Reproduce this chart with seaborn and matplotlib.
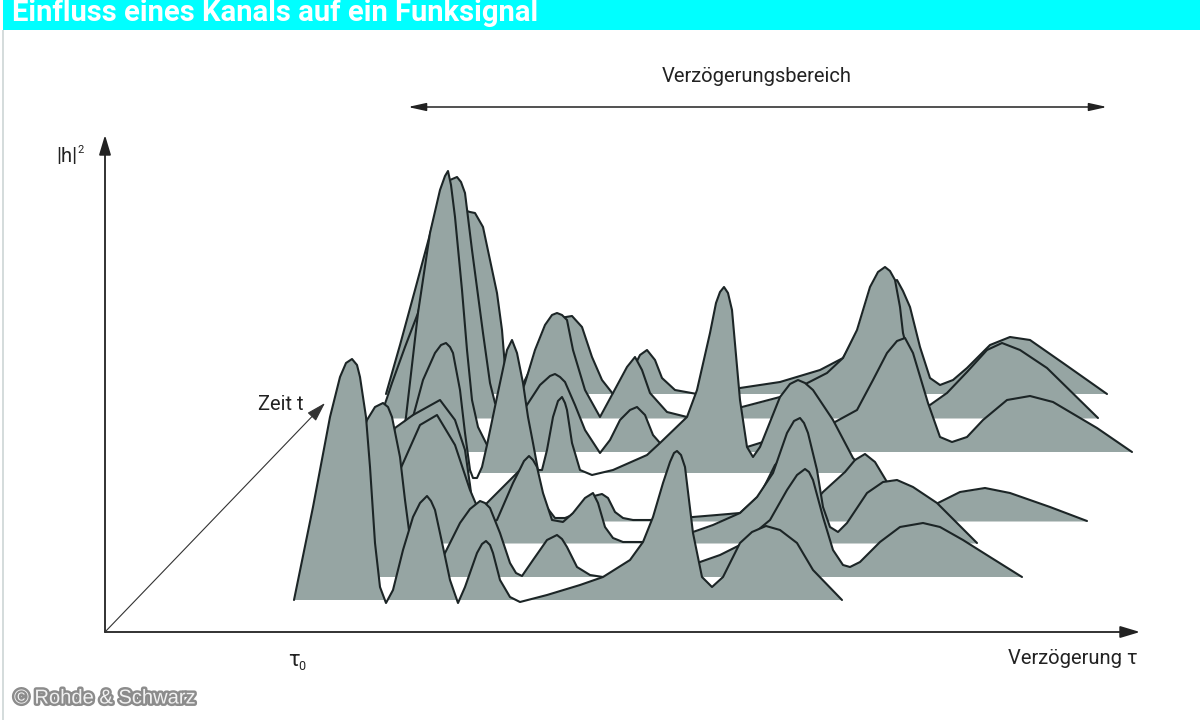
import numpy as np
import seaborn as sns
import matplotlib.pyplot as plt
import matplotlib.patheffects as pe
from matplotlib.patches import Rectangle

# (delay, height above the ridge's own baseline)
ridge_a = [(294,0),(313,93),(330,183),(340,223),(346,237),(352,241),(357,235),(360,223),(366,183),(370,133),(375,57),(380,13),(386,-3),(393,10),(403,50),(413,83),(420,97),(427,104),(431,99),(435,90),(443,53),(450,20),(458,-3),(465,13),(477,47),(482,56),(486,59),(490,55),(493,47),(500,20),(510,3),(520,-2),(547,5),(580,15),(603,23),(630,40),(643,58),(653,83),(663,117),(670,138),(674,147),(677,149),(681,145),(685,133),(693,67),(702,23),(712,13),(723,23),(740,57),(752,68),(766,74),(780,70),(797,57),(813,30),(842,0)]
ridge_b = [(340,0),(350,77),(360,137),(367,157),(375,170),(383,174),(388,170),(392,160),(400,120),(405,77),(410,39),(415,10),(422,-3),(430,-3),(437,8),(445,24),(460,54),(470,68),(480,76),(485,74),(490,69),(500,44),(510,14),(516,4),(522,1),(533,17),(547,37),(557,42),(562,38),(567,30),(577,10),(590,2),(603,0),(640,2),(670,7),(700,15),(720,22),(740,32),(770,57),(787,87),(797,102),(805,108),(809,105),(813,97),(823,60),(833,27),(843,12),(850,10),(860,15),(880,35),(900,50),(923,54),(940,50),(963,37),(990,20),(1022,0)]
ridge_c = [(380,0),(400,73),(420,118),(437,128),(455,98),(470,53),(485,18),(497,23),(513,60),(524,82),(529,87),(533,83),(537,76),(543,50),(552,23),(563,21),(573,30),(585,45),(593,50),(598,40),(605,16),(613,5),(623,1),(643,1),(670,5),(693,11),(713,18),(740,30),(757,46),(773,70),(787,110),(794,122),(800,125),(804,120),(808,110),(817,73),(823,36),(830,16),(838,11),(847,20),(867,50),(883,61),(897,63),(913,56),(937,40),(977,0)]
ridge_d = [(370,0),(380,51),(395,93),(413,106),(440,121),(455,101),(465,71),(470,36),(473,13),(480,9),(487,18),(500,31),(513,44),(525,56),(535,41),(545,16),(555,3),(565,3),(575,7),(590,24),(602,27),(608,23),(615,9),(623,3),(633,1),(650,1),(693,4),(717,6),(740,8),(760,26),(775,56),(790,71),(800,76),(810,46),(818,23),(823,29),(845,49),(855,61),(865,67),(875,59),(887,39),(895,26),(905,11),(915,3),(925,6),(938,18),(960,29),(985,33),(1010,28),(1050,14),(1087,0)]
ridge_e = [(395,0),(400,16),(413,56),(423,93),(435,120),(441,128),(446,130),(450,126),(453,120),(460,83),(465,40),(470,3),(473,-5),(477,-5),(482,6),(487,28),(497,76),(507,123),(512,133),(517,120),(523,90),(528,56),(533,30),(538,3),(542,3),(547,23),(553,56),(558,72),(562,76),(565,70),(567,63),(572,30),(580,3),(592,-2),(613,3),(647,18),(660,30),(687,56),(697,83),(710,140),(716,170),(720,181),(724,186),(728,180),(732,163),(740,73),(747,26),(753,16),(760,26),(780,76),(790,89),(798,93),(805,90),(813,83),(833,53),(853,15),(868,0)]
ridge_f = [(400,0),(406,35),(418,139),(430,219),(440,262),(445,276),(448,281),(451,267),(455,235),(462,162),(467,102),(472,52),(478,25),(487,7),(495,2),(505,7),(515,22),(525,44),(540,67),(550,76),(555,78),(560,75),(565,70),(575,47),(585,22),(600,-1),(610,12),(620,32),(630,42),(637,45),(645,37),(653,17),(660,9),(675,2),(700,5),(725,8),(747,5),(763,10),(790,15),(815,22),(835,30),(857,42),(873,72),(887,99),(897,111),(905,114),(913,99),(928,49),(940,15),(952,10),(967,15),(983,32),(1007,52),(1030,56),(1053,50),(1097,24),(1132,0)]
ridge_g = [(380,0),(387,20),(392,35),(405,71),(418,105),(430,158),(440,213),(450,238),(457,241),(461,236),(465,225),(472,168),(483,85),(490,35),(495,15),(505,3),(515,8),(525,35),(535,68),(545,93),(552,103),(557,105),(562,103),(567,98),(573,68),(585,28),(600,1),(613,25),(627,51),(635,61),(642,48),(650,25),(667,6),(687,1),(700,3),(742,11),(780,21),(827,45),(843,60),(857,88),(870,131),(878,146),(885,151),(890,147),(895,138),(900,111),(903,85),(915,38),(925,13),(930,13),(947,25),(967,46),(987,68),(1002,75),(1020,68),(1047,50),(1098,0)]
ridge_h = [(386,0),(400,49),(415,104),(433,171),(445,194),(460,185),(470,182),(475,181),(483,167),(490,134),(497,101),(502,64),(505,27),(510,9),(520,4),(530,24),(545,59),(560,76),(572,78),(582,67),(592,37),(602,14),(613,0),(620,2),(630,19),(640,39),(647,44),(655,34),(662,16),(675,4),(697,0),(717,2),(740,6),(780,12),(820,24),(843,36),(860,64),(875,94),(888,109),(897,114),(903,103),(910,87),(920,47),(930,16),(940,9),(953,14),(967,26),(990,49),(1010,57),(1030,54),(1063,31),(1107,0)]

# back to front
ridges = [ridge_h, ridge_g, ridge_f, ridge_e, ridge_d, ridge_c, ridge_b, ridge_a]
time_offsets = [238, 214, 180, 159, 111, 89, 55, 32]

title = 'Einfluss eines Kanals auf ein Funksignal'
x_label = 'Verzögerung τ'
y_label = '|h|'
time_label = 'Zeit t'
range_label = 'Verzögerungsbereich'
credit = '© Rohde & Schwarz'

sns.set_theme(style='white')
narrow = ['Liberation Sans Narrow', 'Roboto', 'DejaVu Sans']
ink = '#1c2526'
grey = '#96a5a3'

fig = plt.figure(figsize=(12, 7.2), dpi=100)
ax = fig.add_axes([105/1200, 88/720, 1035/1200, 497/720])
ax.set_xlim(105, 1140)
ax.set_ylim(0, 497)
ax.axis('off')

for i, (ridge, offset) in enumerate(zip(ridges, time_offsets)):
    delay, height = np.array(ridge).T
    level = height + offset
    ax.fill_between(delay, offset, level, where=height > 0, interpolate=True,
                    color=grey, lw=0, zorder=2*i+2)
    sns.lineplot(x=delay, y=level, sort=False, estimator=None, color=ink, lw=1.5,
                 ax=ax, zorder=2*i+3, solid_joinstyle='round')

# axes and arrows
arrow = dict(arrowstyle='-|>,head_width=0.3,head_length=1.0', color='#222222', lw=1.3, shrinkA=0, shrinkB=0)
ax.annotate('', xy=(105, 497), xytext=(105, 0), arrowprops=arrow, annotation_clip=False, zorder=30)
ax.annotate('', xy=(1140, 0), xytext=(105, 0), arrowprops=arrow, annotation_clip=False, zorder=30)
thin = dict(arrow, lw=0.8, color='#333333')
ax.annotate('', xy=(325, 229), xytext=(105, 0), arrowprops=thin, annotation_clip=False, zorder=30)
both = dict(arrow, arrowstyle='<|-|>,head_width=0.2,head_length=0.9', lw=1.1)
ax.annotate('', xy=(408, 525), xytext=(1107, 525), arrowprops=both, annotation_clip=False, zorder=30)

# labels
def label(x, y, s, size=14.5, ha='left'):
    fig.text(x/1200, 1-y/720, s, fontsize=size, ha=ha, va='center', color='#222222', family=narrow)

label(757, 77, range_label, ha='center')
label(56, 157, y_label)
label(77, 150, '2', size=8)
label(258, 405, time_label)
label(288, 660, 'τ', size=16)
label(298, 667, '0', size=9)
label(1138, 658, x_label, ha='right')

# header band and frame
fig.add_artist(Rectangle((3/1200, 1-30/720), 1197/1200, 30/720, transform=fig.transFigure, color='#00ffff', lw=0))
fig.add_artist(Rectangle((2/1200, 0), 2/1200, 690/720, transform=fig.transFigure, color='#d5dcdc', lw=0))
fig.text(12/1200, 1-13/720, title, fontsize=21, fontweight='bold', color='white', ha='left', va='center',
         family=['Roboto', 'DejaVu Sans'])
fig.text(14/1200, 1-698/720, credit, fontsize=14.5, color='#f2f2f2', ha='left', va='center',
         family=['Liberation Sans', 'DejaVu Sans'],
         path_effects=[pe.withStroke(linewidth=3.5, foreground='#666666', alpha=0.75)])

fig.savefig('out.png', dpi=100, facecolor='white')
